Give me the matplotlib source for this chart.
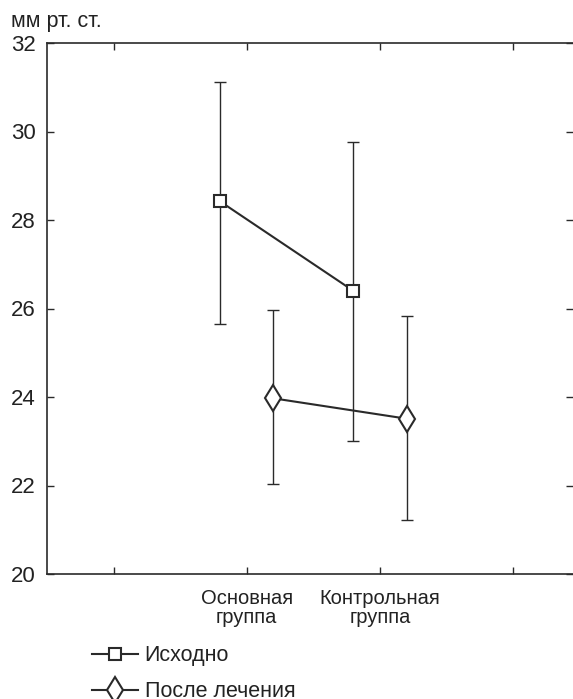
import matplotlib
matplotlib.use("Agg")
import matplotlib.pyplot as plt
import numpy as np

plt.rcParams['font.family'] = ['Liberation Sans', 'DejaVu Sans']

groups = ["Основная\nгруппа", "Контрольная\nгруппа"]
series_names = ["Исходно", "После лечения"]
before_mean = [28.42, 26.40]
before_low = [25.66, 23.00]
before_high = [31.12, 29.77]
after_mean = [23.97, 23.51]
after_low = [22.03, 21.22]
after_high = [25.96, 25.84]
yticks = [20, 22, 24, 26, 28, 30, 32]
ylabel = "мм рт. ст."

C = '#2a2a2a'
fig = plt.figure(figsize=(5.73, 6.99), dpi=100)
ax = fig.add_axes([47/573, 1-574/699, 1-47/573, (574-43)/699])

gx = np.array([2, 3])
off = 0.2

def draw(xs, m, lo, hi, marker, ms, label):
    m = np.array(m); lo = np.array(lo); hi = np.array(hi)
    ax.errorbar(xs, m, yerr=[m-lo, hi-m], fmt='none', ecolor=C, elinewidth=1.0,
                capsize=4, capthick=1.0, zorder=2)
    ax.plot(xs, m, color=C, lw=1.5, marker=marker, ms=ms, mfc='white', mec=C,
            mew=1.5, zorder=3, label=label)

draw(gx-off, before_mean, before_low, before_high, 's', 9, series_names[0])
draw(gx+off, after_mean, after_low, after_high, 'd', 13, series_names[1])

ax.set_xlim(0.5, 4.45)
ax.set_ylim(20, 32)
ax.set_yticks(yticks)
ax.set_yticklabels([str(v) for v in yticks])
ax.set_xticks([1, 2, 3, 4])
ax.set_xticklabels(["", groups[0], groups[1], ""], linespacing=1.0)
for s in ['left', 'top', 'bottom']:
    ax.spines[s].set_color(C)
    ax.spines[s].set_linewidth(1.2)
ax.spines['right'].set_visible(False)
ax.tick_params(axis='both', direction='in', length=5, width=1.0, color=C,
               labelcolor='#222222', top=True, right=True)
ax.tick_params(axis='y', pad=8, labelsize=16)
ax.tick_params(axis='x', pad=11, labelsize=14.5)

fig.text(11/573, 1-22/699, ylabel, fontsize=15.5, color='#222222', va='center', ha='left')

leg = fig.legend(loc='upper left', bbox_to_anchor=(73/573, 1-626/699), frameon=False,
                 fontsize=15.5, handlelength=2.1, handletextpad=0.33, labelspacing=0.7,
                 labelcolor='#222222')

fig.savefig("out.png", dpi=100)
